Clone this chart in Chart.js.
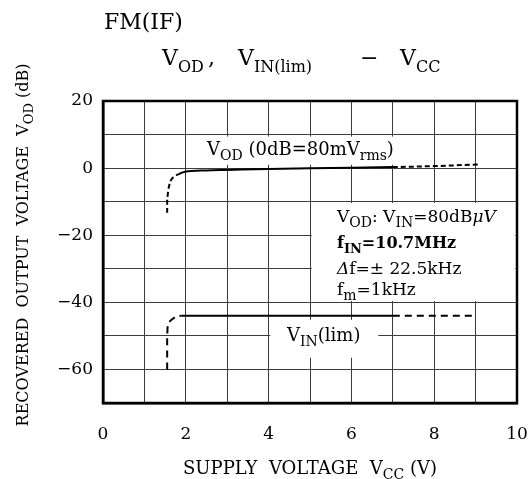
<!DOCTYPE html>
<html>
<head>
<meta charset="utf-8">
<script src="https://cdn.jsdelivr.net/npm/chart.js@4.4.1/dist/chart.umd.min.js"></script>
<style>
  html, body { margin: 0; padding: 0; background: #fff; }
  #wrap { width: 528px; height: 479px; position: relative; }
</style>
</head>
<body>
<div id="wrap"><canvas id="c" width="528" height="479"></canvas></div>
<script>
// Supply voltage (V) and recovered output voltage V_OD (dB)
const vodVcc = [1.55, 1.55, 1.58, 1.63, 1.74, 1.86, 1.98, 2.5, 3, 4, 5, 6, 7, 8, 9.1];
const vodDb  = [-13.3, -8.8, -6.3, -3.9, -2.4, -1.6, -1.1, -0.7, -0.55, -0.25, -0.05, 0.1, 0.3, 0.6, 1.1];

// Supply voltage (V) and input limiting voltage V_IN(lim) (dB)
const vinVcc = [1.55, 1.55, 1.56, 1.62, 1.72, 1.9, 7.0, 9.0];
const vinDb  = [-60, -50, -47.5, -45.6, -44.6, -44, -44, -44];

// Axis ranges and tick labels
const xTickLabels = [0, 2, 4, 6, 8, 10];
const yTickLabels = [20, 0, -20, -40, -60];
const xRange = [0, 10];
const yRange = [-70, 20];

// Curves are drawn solid where measured, dashed where extrapolated
const solidFrom = 1.97;
const solidTo = 7.0;

const SERIF = '"DejaVu Serif", serif';

function toPoints(xs, ys) { return xs.map((x, i) => ({ x: x, y: ys[i] })); }

function dashedSegment(dash) {
  return {
    borderDash: ctx => (ctx.p1.parsed.x <= solidFrom + 1e-6 || ctx.p0.parsed.x >= solidTo - 1e-6) ? dash : undefined
  };
}

// Draw a run of text pieces with optional subscripts
function drawRich(ctx, x, y, parts, size, align, subRatio) {
  const sr = subRatio || 0.8;
  const fontOf = p => (p.italic ? 'italic ' : '') + (p.bold ? 'bold ' : 'normal ') + (p.sub ? Math.round(size * sr) : size) + 'px ' + SERIF;
  let total = 0;
  parts.forEach(p => { ctx.font = fontOf(p); total += ctx.measureText(p.t).width; });
  let cx = align === 'center' ? x - total / 2 : (align === 'right' ? x - total : x);
  ctx.textAlign = 'left';
  ctx.textBaseline = 'alphabetic';
  parts.forEach(p => {
    ctx.font = fontOf(p);
    ctx.fillText(p.t, cx, p.sub ? y + size * 0.3 : y);
    cx += ctx.measureText(p.t).width;
  });
}

const annotationPlugin = {
  id: 'annotations',
  beforeDatasetsDraw(chart) {
    const { ctx, scales: { x, y } } = chart;
    ctx.save();
    ctx.fillStyle = '#fff';
    const box = (x0, x1, y0, y1) => {
      const px0 = x.getPixelForValue(x0), px1 = x.getPixelForValue(x1);
      const py0 = y.getPixelForValue(y0), py1 = y.getPixelForValue(y1);
      ctx.fillRect(Math.min(px0, px1), Math.min(py0, py1), Math.abs(px1 - px0), Math.abs(py1 - py0));
    };
    box(2.25, 7.3, 1.0, 9.4);      // behind the V_OD label
    box(5.04, 9.96, -10.4, -39.6);  // behind the test conditions
    box(4.04, 6.65, -45.2, -56.5);  // behind the V_IN(lim) label
    ctx.restore();
  },
  afterDatasetsDraw(chart) {
    const { ctx, chartArea: a } = chart;
    ctx.save();
    // frame
    ctx.strokeStyle = '#000';
    ctx.lineWidth = 2.5;
    ctx.strokeRect(a.left, a.top, a.right - a.left, a.bottom - a.top);

    ctx.fillStyle = '#000';
    // titles
    drawRich(ctx, 104, 29, [{ t: 'FM(IF)' }], 22, 'left');
    drawRich(ctx, 162, 65, [{ t: 'V' }, { t: 'OD', sub: true }], 22, 'left', 0.74);
    drawRich(ctx, 208, 65, [{ t: ',' }], 22, 'left');
    drawRich(ctx, 238, 65, [{ t: 'V' }, { t: 'IN(lim)', sub: true }], 22, 'left', 0.74);
    drawRich(ctx, 360, 65, [{ t: '\u2212' }], 22, 'left');
    drawRich(ctx, 400, 65, [{ t: 'V' }, { t: 'CC', sub: true }], 22, 'left', 0.74);

    // curve labels
    drawRich(ctx, 207, 155, [
      { t: 'V' }, { t: 'OD', sub: true }, { t: ' (0dB=80mV' }, { t: 'rms', sub: true }, { t: ')' }
    ], 18, 'left');
    drawRich(ctx, 287, 341, [
      { t: 'V' }, { t: 'IN', sub: true }, { t: '(lim)' }
    ], 18, 'left');

    // test conditions
    drawRich(ctx, 337, 222, [
      { t: 'V' }, { t: 'OD', sub: true }, { t: ': V' }, { t: 'IN', sub: true }, { t: '=80dB' }, { t: '\u03bcV', italic: true }
    ], 17, 'left');
    drawRich(ctx, 337, 248, [
      { t: 'f', bold: true }, { t: 'IN', sub: true, bold: true }, { t: '=10.7MHz', bold: true }
    ], 16, 'left');
    drawRich(ctx, 337, 274, [
      { t: '\u0394', italic: true }, { t: 'f=\u00b1 22.5kHz' }
    ], 17, 'left');
    drawRich(ctx, 337, 295, [
      { t: 'f' }, { t: 'm', sub: true }, { t: '=1kHz' }
    ], 17, 'left');

    // axis titles
    drawRich(ctx, 310, 474, [
      { t: 'SUPPLY  VOLTAGE  V' }, { t: 'CC', sub: true }, { t: ' (V)' }
    ], 18, 'center');
    ctx.translate(28, 245);
    ctx.rotate(-Math.PI / 2);
    drawRich(ctx, 0, 0, [
      { t: 'RECOVERED  OUTPUT  VOLTAGE  V' }, { t: 'OD', sub: true }, { t: ' (dB)' }
    ], 16, 'center');
    ctx.restore();
  }
};

new Chart(document.getElementById('c'), {
  type: 'line',
  data: {
    datasets: [
      {
        label: 'V_OD',
        data: toPoints(vodVcc, vodDb),
        borderColor: '#000',
        borderWidth: 2,
        pointRadius: 0,
        tension: 0.3,
        cubicInterpolationMode: 'monotone',
        segment: dashedSegment([5, 3])
      },
      {
        label: 'V_IN(lim)',
        data: toPoints(vinVcc, vinDb),
        borderColor: '#000',
        borderWidth: 2,
        pointRadius: 0,
        tension: 0.3,
        cubicInterpolationMode: 'monotone',
        segment: dashedSegment([7, 5])
      }
    ]
  },
  options: {
    responsive: false,
    animation: false,
    layout: { padding: { top: 101, right: 11, left: 0, bottom: 0 } },
    plugins: { legend: { display: false }, tooltip: { enabled: false }, title: { display: false } },
    scales: {
      x: {
        type: 'linear',
        min: xRange[0], max: xRange[1],
        ticks: {
          stepSize: 1,
          padding: 21,
          color: '#000',
          font: { family: SERIF, size: 17 },
          maxRotation: 0,
          autoSkip: false,
          callback: v => xTickLabels.includes(v) ? String(v) : ''
        },
        grid: { color: '#3c3c3c', lineWidth: 1, drawTicks: false },
        border: { color: '#000', width: 2.5 },
        afterFit: s => { s.height = 76; s.paddingLeft = 0; s.paddingRight = 0; }
      },
      y: {
        type: 'linear',
        min: yRange[0], max: yRange[1],
        ticks: {
          stepSize: 10,
          padding: 10,
          color: '#000',
          font: { family: SERIF, size: 17 },
          autoSkip: false,
          callback: v => yTickLabels.includes(v) ? (v < 0 ? '\u2212' + Math.abs(v) : String(v)) : ''
        },
        grid: { color: '#3c3c3c', lineWidth: 1, drawTicks: false },
        border: { color: '#000', width: 2.5 },
        afterFit: s => { s.width = 103; s.paddingTop = 0; s.paddingBottom = 0; }
      }
    }
  },
  plugins: [annotationPlugin]
});
</script>
</body>
</html>
